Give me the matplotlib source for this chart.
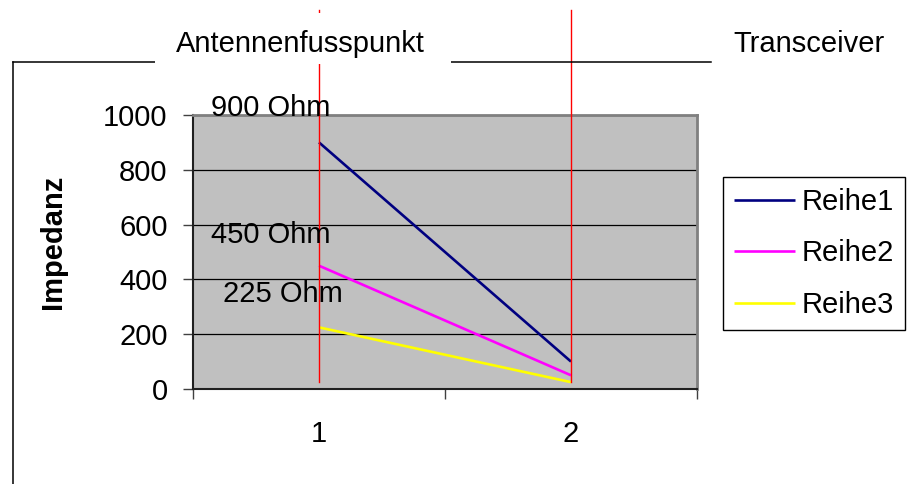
import matplotlib.pyplot as plt
from matplotlib.lines import Line2D
from matplotlib.patches import Rectangle
import matplotlib.transforms as mtransforms

plt.rcParams['font.family'] = ['Liberation Sans', 'DejaVu Sans']

# data
categories = [1, 2]
reihe1 = [900, 100]
reihe2 = [450, 50]
reihe3 = [225, 25]
series_names = ["Reihe1", "Reihe2", "Reihe3"]
series_colors = ["#000080", "#ff00ff", "#ffff00"]
marker_x = [1, 2]          # red vertical markers
marker_bottom = 25
point_labels = ["900 Ohm", "450 Ohm", "225 Ohm"]
yticks = [0, 200, 400, 600, 800, 1000]

fs = 21

fig = plt.figure(figsize=(9.09, 4.84), dpi=100)
ax = fig.add_axes([193 / 909, 1 - 389 / 484, 504 / 909, 274 / 484])
ax.set_facecolor("#c0c0c0")

for vals, name, col in zip([reihe1, reihe2, reihe3], series_names, series_colors):
    ax.plot(categories, vals, color=col, lw=1.9, label=name, solid_capstyle='butt', zorder=3)

ax.set_xlim(0.5, 2.5)
ax.set_ylim(0, 1000)
ax.set_yticks(yticks)
ax.set_yticklabels([str(v) for v in yticks], fontsize=fs)
ax.yaxis.grid(True, color="black", lw=0.9)
ax.set_axisbelow(True)

# category boundaries as major ticks, labels on minor ticks
ax.set_xticks([0.5, 1.5, 2.5])
ax.set_xticklabels([])
ax.set_xticks(categories, minor=True)
ax.set_xticklabels([str(c) for c in categories], minor=True, fontsize=fs)
ax.tick_params(axis='x', which='major', direction='out', length=7.2, width=1, color='#404040')
ax.tick_params(axis='x', which='minor', length=0, pad=22.5)
ax.tick_params(axis='y', direction='out', length=7.2, width=1, color='#404040', pad=11)

for s in ['top', 'right']:
    ax.spines[s].set_color('#808080')
    ax.spines[s].set_linewidth(2)
for s in ['left', 'bottom']:
    ax.spines[s].set_color('#202020')
    ax.spines[s].set_linewidth(1.5)

ax.set_ylabel("Impedanz", fontsize=fs, fontweight='bold', labelpad=0)
ax.yaxis.set_label_coords(67 / 909, 0.5, transform=fig.transFigure)

# red markers extending above the plot
trans = mtransforms.blended_transform_factory(ax.transData, fig.transFigure)
for mx in marker_x:
    ybot = fig.transFigure.inverted().transform(ax.transData.transform((mx, marker_bottom)))[1]
    ax.plot([mx, mx], [ybot, 1 - 10 / 484], transform=trans, color="#ff0000", lw=1.0,
            clip_on=False, zorder=4)

# chart border (top and left)
fig.lines.append(Line2D([13 / 909, 711 / 909], [1 - 62 / 484, 1 - 62 / 484],
                        color='black', lw=1.1, transform=fig.transFigure, zorder=0.5))
fig.lines.append(Line2D([13 / 909, 13 / 909], [1 - 62 / 484, 0],
                        color='black', lw=1.1, transform=fig.transFigure, zorder=0.5))
fig.patches.append(Rectangle((155 / 909, 1 - 63.5 / 484), 296 / 909, 50.5 / 484,
                             facecolor='white', edgecolor='none',
                             transform=fig.transFigure, zorder=1))

fig.text(176 / 909, 1 - 52 / 484, "Antennenfusspunkt", fontsize=fs, ha='left', va='baseline', zorder=2)
fig.text(733 / 909, 1 - 52 / 484, "Transceiver", fontsize=fs, ha='left', va='baseline', zorder=2)

label_pos = [(211, 116), (211, 243), (223, 302)]
for txt, (px, py) in zip(point_labels, label_pos):
    fig.text(px / 909, 1 - py / 484, txt, fontsize=fs, ha='left', va='baseline', zorder=5)

leg = ax.legend(loc='upper left', bbox_to_anchor=(723 / 909, 1 - 177 / 484),
                bbox_transform=fig.transFigure, borderaxespad=0, fontsize=fs,
                frameon=True, fancybox=False, edgecolor='black', framealpha=1,
                handlelength=2.1, handletextpad=0.2, labelspacing=0.8, borderpad=0.38)
leg.get_frame().set_linewidth(1.0)

fig.savefig("out.png", dpi=100)
